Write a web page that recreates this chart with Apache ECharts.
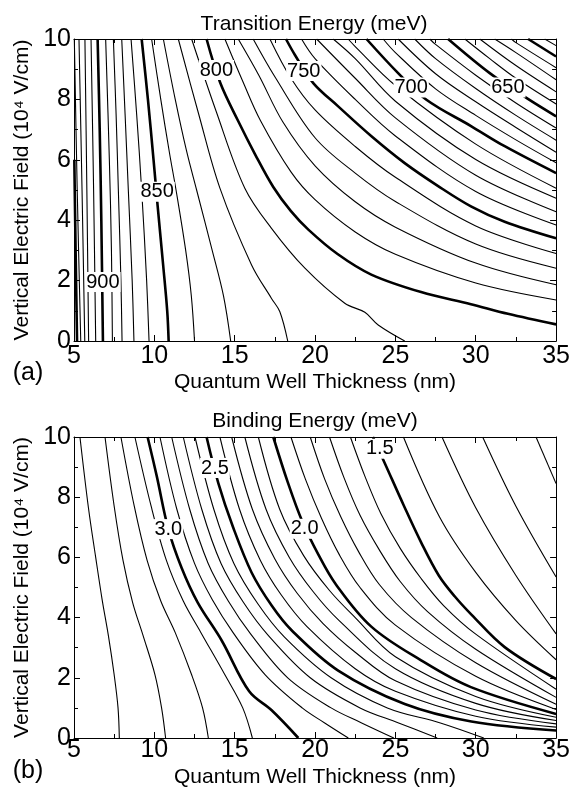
<!DOCTYPE html>
<html>
<head>
<meta charset="utf-8">
<title>Transition / binding energy contours</title>
<script src="https://cdn.jsdelivr.net/npm/echarts@6/dist/echarts.min.js"></script>
<style>
  html, body { margin: 0; padding: 0; background: #fff; }
  #chart { width: 573px; height: 792px; }
</style>
</head>
<body>
<div id="chart"></div>
<script>
// (a) transition energy contours, meV; each path is [thickness nm, field 10^4 V/cm]
const transitionLevels = [950, 940, 930, 920, 910, 900, 890, 880, 870, 860, 850,
  840, 830, 820, 810, 800, 790, 780, 770, 760, 750, 740, 730, 720, 710, 700,
  690, 680, 670, 660, 650, 640, 630, 620, 610, 600, 590];
const transitionPaths = [
  [[5.02, 6], [5.1, 3], [5.19, 0]],
  [[5.02, 10], [5.2, 5], [5.42, 0]],
  [[5.31, 10], [5.5, 5], [5.67, 0]],
  [[5.68, 10], [5.8, 5], [5.91, 0]],
  [[6.06, 10], [6.22, 5], [6.35, 0]],
  [[6.47, 10], [6.6, 7], [6.7, 4], [6.8, 0]],
  [[6.97, 10], [7.2, 6], [7.33, 3], [7.39, 0]],
  [[7.45, 10], [7.62, 7.5], [7.76, 5], [7.92, 2], [7.99, 0]],
  [[7.97, 10], [8.18, 7.5], [8.38, 5], [8.62, 2], [8.73, 0]],
  [[8.55, 10], [8.9, 7.5], [9.21, 5], [9.52, 2], [9.67, 0]],
  [[9.21, 10], [9.6, 8], [9.95, 6], [10.2, 4.5], [10.55, 2.5], [10.8, 1], [10.89, 0]],
  [[9.83, 10], [10.4, 8], [10.95, 6.2], [11.35, 5], [11.95, 3], [12.3, 1.5], [12.5, 0]],
  [[10.56, 10], [11.3, 8], [12.0, 6.3], [12.63, 5], [13.6, 3], [14.3, 1.5], [14.75, 0]],
  [[11.49, 10], [12.74, 7.55], [14.08, 5.06], [16.05, 2.52], [17.29, 1.41], [17.81, 0.97], [18.3, 0]],
  [[12.32, 10], [13.85, 7.6], [15.63, 5.06], [17.29, 3.73], [19.37, 2.41], [21.85, 1.25], [23.1, 0.95], [23.93, 0.53], [25.58, 0]],
  [[13.25, 10], [14.1, 8.55], [15.2, 7.3], [16.3, 6.15], [17.4, 5.1], [18.5, 4.3], [19.6, 3.68], [21.4, 2.88], [23.5, 2.2], [26.6, 1.62], [29.7, 1.22], [32, 0.9], [35, 0.55]],
  [[14.39, 10], [15.5, 8.6], [16.6, 7.3], [18.5, 5.6], [20, 4.68], [22.5, 3.61], [25, 2.87], [30, 1.92], [35, 1.36]],
  [[15.22, 10], [16.5, 8.8], [18, 7.25], [20, 5.8], [22.5, 4.61], [25, 3.77], [30, 2.58], [35, 1.86]],
  [[16.15, 10], [17.5, 8.75], [20, 6.73], [22.5, 5.56], [25, 4.62], [30, 3.21], [35, 2.41]],
  [[17.19, 10], [18.5, 8.7], [20, 7.65], [22.5, 6.44], [25, 5.42], [30, 3.81], [35, 2.9]],
  [[18.19, 10], [18.74, 9.48], [19.89, 8.54], [21.44, 7.77], [23.51, 6.78], [25.58, 5.89], [27.66, 5.13], [29.73, 4.45], [31.8, 3.95], [35, 3.4]],
  [[19.16, 10], [20, 9.35], [22.5, 8.0], [25, 6.79], [30, 4.95], [35, 3.84]],
  [[20.1, 10], [22.5, 8.7], [25, 7.39], [30, 5.49], [35, 4.28]],
  [[21.13, 10], [22.5, 9.35], [25, 7.94], [30, 6.01], [35, 4.73]],
  [[22.06, 10], [22.5, 9.75], [25, 8.46], [30, 6.52], [35, 5.06]],
  [[23.2, 10], [25.17, 8.87], [26.93, 7.99], [29.73, 7.11], [31.8, 6.45], [35, 5.56]],
  [[24.24, 10], [25, 9.55], [27.5, 8.35], [30, 7.47], [32.5, 6.66], [35, 5.9]],
  [[25.17, 10], [27.5, 8.85], [30, 7.92], [32.5, 7.07], [35, 6.25]],
  [[26.2, 10], [27.5, 9.35], [30, 8.36], [32.5, 7.47], [35, 6.65]],
  [[27.14, 10], [27.5, 9.82], [30, 8.8], [32.5, 7.88], [35, 7.05]],
  [[28.28, 10], [30.87, 8.87], [33.15, 8.05], [35, 7.44]],
  [[29.32, 10], [30.87, 9.35], [32.5, 8.7], [35, 7.85]],
  [[30.25, 10], [32.5, 9.12], [35, 8.25]],
  [[31.18, 10], [32.5, 9.55], [35, 8.65]],
  [[32.22, 10], [32.5, 9.88], [35, 9.05]],
  [[33.26, 10], [35, 9.42]],
  [[34.29, 10], [35, 9.78]]
];
const transitionLabels = ['900', '850', '800', '750', '700', '650'];
const transitionLabelAt = [[6.8, 1.95], [10.17, 4.94], [13.86, 8.97], [19.3, 8.94], [25.98, 8.39], [32.0, 8.39]];

// (b) binding energy contours, meV
const bindingLevels = [3.4, 3.3, 3.2, 3.1, 3.0, 2.9, 2.8, 2.7, 2.6, 2.5, 2.4, 2.3,
  2.2, 2.1, 2.0, 1.9, 1.8, 1.7, 1.6, 1.5, 1.4, 1.3, 1.2, 1.1];
const bindingPaths = [
  [[5.37, 10], [5.9, 7.64], [6.35, 6.0], [6.75, 4.6], [7.14, 3.4], [7.5, 2.1], [7.74, 1.0], [7.82, 0]],
  [[6.93, 10], [7.5, 7.7], [8.05, 5.9], [8.65, 4.5], [9.3, 3.4], [10.04, 2.1], [10.45, 1.0], [10.7, 0]],
  [[7.92, 10], [8.75, 7.7], [9.55, 5.9], [10.4, 4.55], [11.3, 3.5], [12.32, 2.1], [13.0, 1.0], [13.36, 0]],
  [[8.79, 10], [9.8, 7.7], [10.75, 5.9], [11.8, 4.55], [12.9, 3.5], [14.39, 2.1], [15.5, 1.0], [16.1, 0]],
  [[9.58, 10], [10.15, 8.7], [10.87, 6.94], [11.7, 5.65], [12.7, 4.5], [14.19, 3.24], [15.9, 1.55], [17.3, 0.92], [18.96, 0]],
  [[10.35, 10], [11.4, 7.6], [12.5, 5.8], [13.6, 4.6], [14.9, 3.5], [16.9, 2.1], [19.2, 1], [20.6, 0.5], [22.07, 0]],
  [[11.08, 10], [12.2, 7.6], [13.35, 5.8], [14.6, 4.55], [16.0, 3.45], [18.3, 2.0], [21.0, 1], [22.9, 0.5], [24.9, 0]],
  [[11.8, 10], [12.95, 7.6], [14.15, 5.8], [15.55, 4.5], [17.1, 3.4], [19.7, 2.0], [22.8, 1], [25.2, 0.5], [27.6, 0]],
  [[12.53, 10], [13.7, 7.6], [14.95, 5.8], [16.45, 4.45], [18.1, 3.35], [21.0, 2.0], [24.5, 1], [27.8, 0.5], [30.5, 0]],
  [[13.25, 10], [13.98, 8.47], [14.9, 7.0], [16.05, 5.5], [17.3, 4.4], [18.54, 3.58], [21.44, 2.24], [25.58, 1.13], [29.73, 0.55], [35, 0.25]],
  [[14.08, 10], [15.3, 7.6], [16.6, 5.9], [17.9, 4.75], [19.5, 3.7], [22.5, 2.3], [25, 1.55], [30, 0.72], [35, 0.36]],
  [[14.81, 10], [16.1, 7.6], [17.5, 5.95], [18.9, 4.8], [20.5, 3.8], [22.5, 2.85], [25, 1.9], [30, 0.93], [35, 0.47]],
  [[15.63, 10], [16.95, 7.6], [18.4, 6.0], [19.9, 4.85], [21.5, 3.9], [25, 2.3], [30, 1.15], [35, 0.58]],
  [[16.47, 10], [17.8, 7.6], [19.3, 6.05], [20.9, 4.9], [22.5, 4.0], [25, 2.7], [30, 1.38], [35, 0.69]],
  [[17.4, 10], [18.3, 8.5], [19.2, 7.2], [20.2, 6.1], [21.3, 5.1], [23.5, 3.7], [26.6, 2.58], [29.7, 1.69], [35, 0.8]],
  [[18.5, 10], [19.4, 8.6], [20.4, 7.3], [21.5, 6.1], [22.8, 5.0], [25, 3.75], [30, 2.05], [35, 0.95]],
  [[19.7, 10], [20.6, 8.6], [21.6, 7.35], [22.7, 6.2], [24.0, 5.1], [26, 4.0], [30, 2.5], [35, 1.12]],
  [[20.9, 10], [21.8, 8.65], [22.8, 7.4], [24.0, 6.25], [25.3, 5.2], [27, 4.2], [30, 2.95], [35, 1.35]],
  [[22.2, 10], [23.1, 8.7], [24.1, 7.45], [25.3, 6.3], [26.6, 5.3], [28, 4.4], [30, 3.45], [35, 1.62]],
  [[23.6, 10], [24.34, 9.13], [25.5, 7.75], [26.6, 6.5], [27.7, 5.4], [28.7, 4.7], [29.73, 4.1], [31.8, 3.02], [35, 1.96]],
  [[25.5, 10], [27.74, 7.35], [30, 5.5], [32.5, 3.9], [35, 2.6]],
  [[27.9, 10], [30, 7.65], [32.5, 5.4], [35, 3.46]],
  [[30.43, 10], [32.5, 7.7], [35, 5.35]],
  [[33.75, 10], [35, 8.45]]
];
const bindingLabels = ['3.0', '2.5', '2.0', '1.5'];
const bindingLabelAt = [[10.87, 6.94], [13.77, 8.97], [19.35, 6.95], [24.03, 9.61]];

const FONT = '"Liberation Sans", Arial, Helvetica, sans-serif';

let mychart = echarts.init(document.getElementById('chart'));

function contourSeries(levels, paths, isBold, axis) {
  return levels.map((lv, i) => ({
    type: 'line',
    name: String(lv),
    xAxisIndex: axis,
    yAxisIndex: axis,
    data: paths[i],
    smooth: 0.35,
    symbol: 'none',
    silent: true,
    animation: false,
    lineStyle: { color: '#000', width: isBold(lv) ? 2.6 : 1.1 },
    z: 2,
  }));
}

function labelSeries(texts, at, axis) {
  return {
    type: 'scatter',
    xAxisIndex: axis,
    yAxisIndex: axis,
    symbolSize: 0,
    silent: true,
    animation: false,
    z: 5,
    itemStyle: { opacity: 1, color: '#000' },
    data: at.map((p, i) => [p[0], p[1], texts[i]]),
    label: {
      show: true,
      position: 'inside',
      formatter: (p) => p.value[2],
      color: '#000',
      opacity: 1,
      fontSize: 20,
      fontFamily: FONT,
      textBorderWidth: 0,
      textBorderColor: 'transparent',
      textShadowBlur: 0,
      backgroundColor: '#fff',
      padding: [0, 1],
    },
  };
}

function xAxes(gridIndex, labelMargin, nameGap) {
  let common = {
    gridIndex: gridIndex,
    type: 'value',
    min: 5,
    max: 35,
    interval: 5,
    axisLine: { onZero: false, lineStyle: { color: '#000', width: 1 } },
    axisTick: { inside: true, length: 6, lineStyle: { color: '#000' } },
    minorTick: { show: true, splitNumber: 2, length: 4, lineStyle: { color: '#000' } },
    splitLine: { show: false },
  };
  return [
    Object.assign({}, common, {
      position: 'bottom',
      name: 'Quantum Well Thickness (nm)',
      nameLocation: 'middle',
      nameGap: nameGap,
      nameTextStyle: { color: '#000', fontSize: 21, fontFamily: FONT },
      axisLabel: { margin: labelMargin, color: '#000', fontSize: 25, fontFamily: FONT },
    }),
    Object.assign({}, common, { position: 'top', axisLabel: { show: false } }),
  ];
}

function yAxes(gridIndex) {
  let common = {
    gridIndex: gridIndex,
    type: 'value',
    min: 0,
    max: 10,
    interval: 2,
    axisLine: { onZero: false, lineStyle: { color: '#000', width: 1 } },
    axisTick: { inside: true, length: 6, lineStyle: { color: '#000' } },
    minorTick: { show: true, splitNumber: 2, length: 4, lineStyle: { color: '#000' } },
    splitLine: { show: false },
  };
  return [
    Object.assign({}, common, {
      position: 'left',
      name: 'Vertical Electric Field (10\u2074 V/cm)',
      nameLocation: 'middle',
      nameRotate: 90,
      nameGap: 32,
      nameTextStyle: { color: '#000', fontSize: 21, fontFamily: FONT },
      axisLabel: { margin: 3, color: '#000', fontSize: 25, fontFamily: FONT },
    }),
    Object.assign({}, common, { position: 'right', axisLabel: { show: false } }),
  ];
}

function text(x, y, str, size) {
  return {
    type: 'text',
    x: x,
    y: y,
    silent: true,
    style: {
      text: str,
      font: size + 'px ' + FONT,
      fill: '#000',
      textAlign: 'center',
      textVerticalAlign: 'middle',
      align: 'center',
      verticalAlign: 'middle',
    },
  };
}

let option = {
  backgroundColor: '#fff',
  animation: false,
  grid: [
    { left: 74, top: 39, width: 483, height: 302 },
    { left: 74, top: 437, width: 483, height: 301 },
  ],
  xAxis: xAxes(0, 3, 31).concat(xAxes(1, 0, 29)),
  yAxis: yAxes(0).concat(yAxes(1)),
  graphic: [
    text(314, 24, 'Transition Energy (meV)', 21),
    text(315, 421, 'Binding Energy (meV)', 21),
    text(28, 373, '(a)', 25),
    text(28, 771, '(b)', 25),
  ],
  series: []
    .concat(contourSeries(transitionLevels, transitionPaths, (v) => v % 50 === 0, 0))
    .concat([labelSeries(transitionLabels, transitionLabelAt, 0)])
    .concat(contourSeries(bindingLevels, bindingPaths, (v) => Math.round(v * 10) % 5 === 0, 2))
    .concat([labelSeries(bindingLabels, bindingLabelAt, 2)]),
};

mychart.setOption(option);
window.addEventListener('resize', () => {
  mychart.resize();
});
</script>
</body>
</html>
